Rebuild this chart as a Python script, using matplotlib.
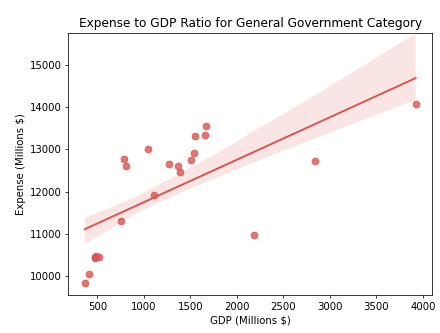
import matplotlib
matplotlib.use("Agg")
import matplotlib.pyplot as plt
import seaborn as sns
import pandas as pd

# General government category, one row per state
GDP = [363, 406, 468, 478, 489, 514, 754, 787, 812, 1045, 1110, 1268, 1361,
       1390, 1505, 1537, 1548, 1655, 1670, 2183, 2843, 3920]
EXPENSE = [9827, 10040, 10425, 10440, 10465, 10450, 11293, 12773, 12617,
           13019, 11922, 12664, 12617, 12475, 12750, 12908, 13310, 13340,
           13553, 10976, 12735, 14073]

COLOUR = "#d9534f"


def main():
    plt.rcParams["font.size"] = 10.5
    df = pd.DataFrame({"gdp": GDP, "expense": EXPENSE})

    fig, ax = plt.subplots(figsize=(440 / 69, 333 / 69), dpi=69)
    sns.regplot(data=df, x="gdp", y="expense", color=COLOUR, ax=ax, ci=68, seed=0,
                scatter_kws={"s": 50}, line_kws={"lw": 2})
    ax.set_title("Expense to GDP Ratio for General Government Category", fontsize=12.6)
    ax.set_xlabel("GDP (Millions $)")
    ax.set_ylabel("Expense (Millions $)")
    ax.set_xticks(range(500, 4001, 500))
    ax.set_yticks(range(10000, 15001, 1000))
    ax.set_ylim(9550, 15760)

    fig.subplots_adjust(left=0.155, right=0.982, top=0.901, bottom=0.114)
    fig.savefig("out.png", dpi=69)
    plt.close(fig)


if __name__ == "__main__":
    main()
